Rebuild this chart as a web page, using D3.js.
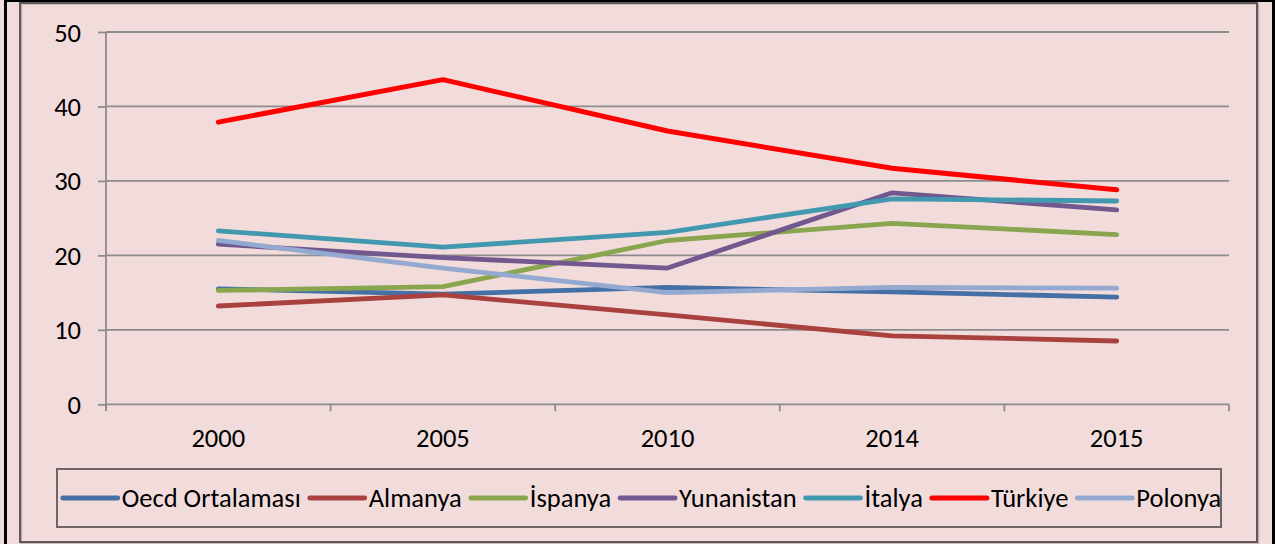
<!DOCTYPE html>
<html><head><meta charset="utf-8">
<script src="https://cdn.jsdelivr.net/npm/d3@7"></script>
<style>
html,body{margin:0;padding:0;background:#F2DCDB;}
svg{display:block;}
text{font-family:Carlito,Calibri,Lato,"Open Sans",sans-serif;fill:#000;}
</style></head>
<body>
<svg id="c" width="1275" height="544"></svg>
<script>
const years = ["2000","2005","2010","2014","2015"];
const seriesNames = ["Oecd Ortalaması","Almanya","İspanya","Yunanistan","İtalya","Türkiye","Polonya"];
const oecd       = [15.5, 14.8, 15.7, 15.1, 14.4];
const almanya    = [13.2, 14.7, 12.0, 9.2, 8.5];
const ispanya    = [15.3, 15.8, 22.0, 24.3, 22.8];
const yunanistan = [21.5, 19.7, 18.3, 28.4, 26.1];
const italya     = [23.3, 21.1, 23.1, 27.6, 27.3];
const turkiye    = [37.9, 43.6, 36.7, 31.7, 28.8];
const polonya    = [22.0, 18.3, 15.0, 15.7, 15.6];
const yTicks = [0,10,20,30,40,50];
const seriesValues = [oecd, almanya, ispanya, yunanistan, italya, turkiye, polonya];
const colors = ["#4470A5","#A9423F","#89A54E","#71588F","#4198AF","#FF0000","#93A9CF"];
const FS = "26.5px";

const svg = d3.select("#c");
// outer frames
svg.append("rect").attr("x",5.5).attr("y",0.5).attr("width",1268).attr("height",600)
  .attr("fill","#F2DCDB").attr("stroke","#000").attr("stroke-width",3);
svg.append("rect").attr("x",21.5).attr("y",4).attr("width",1237).attr("height",540)
  .attr("fill","none").attr("stroke","#BFB0B0").attr("stroke-width",1.5);
svg.append("rect").attr("x",20).attr("y",3).attr("width",1237).attr("height",539)
  .attr("fill","none").attr("stroke","#5E5858").attr("stroke-width",2);

const x = d3.scaleBand().domain(years).range([106,1229]).padding(0);
const y = d3.scaleLinear().domain([0,50]).range([404.3,32]);
const cx = d => x(d) + x.bandwidth()/2;

// gridlines
svg.append("g").selectAll("line").data(yTicks.filter(t=>t>0)).join("line")
  .attr("x1",106).attr("x2",1229).attr("y1",d=>y(d)).attr("y2",d=>y(d))
  .attr("stroke","#8C8C8C").attr("stroke-width",1.8);

// y axis
const yAxis = d3.axisLeft(y).tickValues(yTicks).tickSize(8).tickPadding(17).tickFormat(d3.format("d"));
const gy = svg.append("g").attr("transform","translate(106,0)").call(yAxis);
gy.select(".domain").attr("stroke","#8C8C8C").attr("stroke-width",1.8).attr("d","M0,32V410");
gy.selectAll(".tick line").attr("stroke","#8C8C8C").attr("stroke-width",1.8);
gy.selectAll(".tick text").style("font-size",FS).attr("dy","0.34em");

// x axis
const gx = svg.append("g").attr("transform","translate(0,404.3)");
gx.append("line").attr("x1",106).attr("x2",1229).attr("y1",0).attr("y2",0)
  .attr("stroke","#8C8C8C").attr("stroke-width",1.8);
const bounds = years.map(d=>x(d)).concat([x.range()[1]]);
gx.selectAll("line.t").data(bounds).join("line").attr("class","t")
  .attr("x1",d=>d).attr("x2",d=>d).attr("y1",0).attr("y2",7)
  .attr("stroke","#8C8C8C").attr("stroke-width",1.8);
gx.selectAll("text").data(years).join("text")
  .attr("x",d=>cx(d)).attr("y",43).attr("text-anchor","middle")
  .style("font-size",FS).text(d=>d);

// lines
const line = d3.line().x((d,i)=>cx(years[i])).y(d=>y(d));
svg.append("g").selectAll("path").data(seriesValues).join("path")
  .attr("d",d=>line(d)).attr("fill","none")
  .attr("stroke",(d,i)=>colors[i])
  .attr("stroke-width",(d,i)=>i===5?5:4.8)
  .attr("stroke-linejoin","round").attr("stroke-linecap","round");

// legend
svg.append("rect").attr("x",57).attr("y",469).attr("width",1164).attr("height",58)
  .attr("fill","none").attr("stroke","#6E6666").attr("stroke-width",2);
const lg = svg.append("g");
const items = lg.selectAll("g").data(seriesNames).join("g");
items.append("line").attr("x1",0).attr("x2",55).attr("y1",0).attr("y2",0)
  .attr("stroke",(d,i)=>colors[i]).attr("stroke-width",(d,i)=>i===5?5:4.8)
  .attr("stroke-linecap","round");
items.append("text").attr("x",59).attr("y",0).attr("dy","0.35em")
  .style("font-size",FS).text(d=>d);
const gap = 9;
const widths = items.nodes().map(n=>n.querySelector("text").getComputedTextLength()+59);
const total = widths.reduce((a,b)=>a+b,0) + gap*(widths.length-1);
let start = 57 + (1164 - total)/2 + 3;
items.attr("transform",(d,i)=>{
  const tx = start; start += widths[i] + gap; return `translate(${tx},498)`;
});
</script>
</body></html>
